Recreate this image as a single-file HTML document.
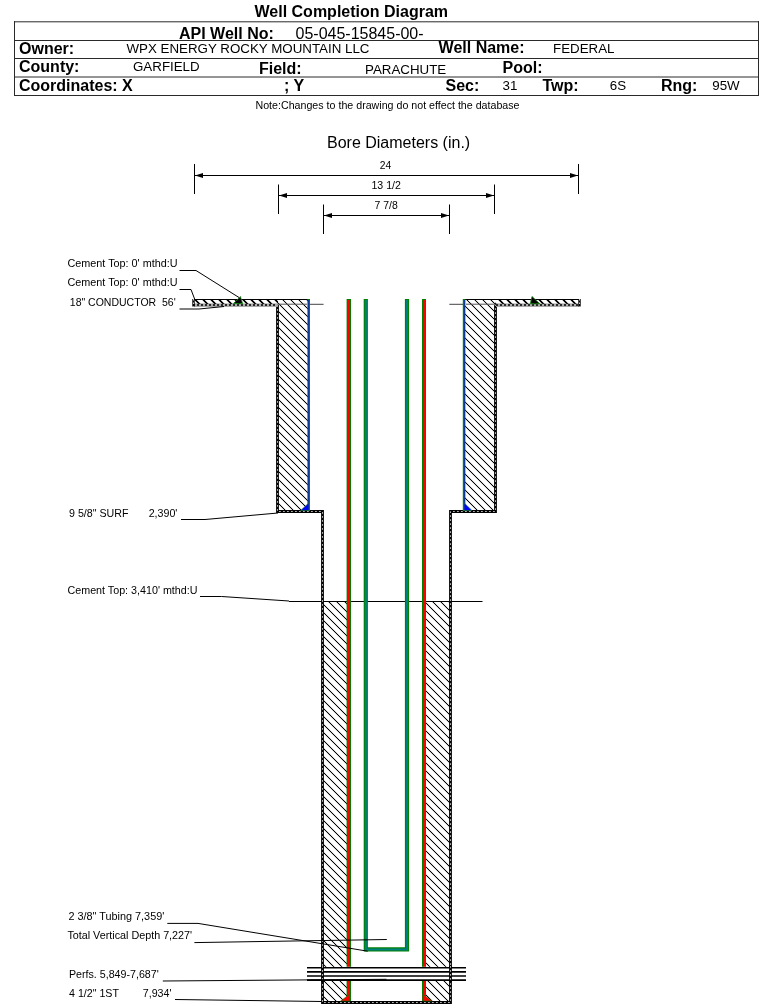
<!DOCTYPE html>
<html><head><meta charset="utf-8"><title>Well Completion Diagram</title>
<style>
html,body{margin:0;padding:0;background:#fff;width:759px;height:1004px;overflow:hidden}
svg{display:block;will-change:transform}
text{font-family:"Liberation Sans",sans-serif;fill:#000;white-space:pre}
.b{font-weight:bold;font-size:16px}
.r16{font-size:16px}
.r13{font-size:13.33px}
.s{font-size:10.67px}
</style></head><body>
<svg width="759" height="1004" viewBox="0 0 759 1004" xml:space="preserve">
<defs>
<pattern id="h" patternUnits="userSpaceOnUse" width="8" height="8" x="0" y="1"><g shape-rendering="crispEdges"><g fill="#d4d4d4"><rect x="1" y="0" width="1" height="1"/><rect x="0" y="1" width="1" height="1"/><rect x="2" y="1" width="1" height="1"/><rect x="1" y="2" width="1" height="1"/><rect x="3" y="2" width="1" height="1"/><rect x="2" y="3" width="1" height="1"/><rect x="4" y="3" width="1" height="1"/><rect x="3" y="4" width="1" height="1"/><rect x="5" y="4" width="1" height="1"/><rect x="4" y="5" width="1" height="1"/><rect x="6" y="5" width="1" height="1"/><rect x="5" y="6" width="1" height="1"/><rect x="7" y="6" width="1" height="1"/><rect x="6" y="7" width="1" height="1"/><rect x="0" y="7" width="1" height="1"/><rect x="7" y="0" width="1" height="1"/></g><g fill="#000"><rect x="0" y="0" width="1" height="1"/><rect x="1" y="1" width="1" height="1"/><rect x="2" y="2" width="1" height="1"/><rect x="3" y="3" width="1" height="1"/><rect x="4" y="4" width="1" height="1"/><rect x="5" y="5" width="1" height="1"/><rect x="6" y="6" width="1" height="1"/><rect x="7" y="7" width="1" height="1"/></g></g></pattern>
<pattern id="h2" patternUnits="userSpaceOnUse" width="8" height="8" x="0" y="1"><g shape-rendering="crispEdges"><g fill="#c8c8c8"><rect x="2" y="0" width="1" height="1"/><rect x="7" y="0" width="1" height="1"/><rect x="3" y="1" width="1" height="1"/><rect x="0" y="1" width="1" height="1"/><rect x="4" y="2" width="1" height="1"/><rect x="1" y="2" width="1" height="1"/><rect x="5" y="3" width="1" height="1"/><rect x="2" y="3" width="1" height="1"/><rect x="6" y="4" width="1" height="1"/><rect x="3" y="4" width="1" height="1"/><rect x="7" y="5" width="1" height="1"/><rect x="4" y="5" width="1" height="1"/><rect x="0" y="6" width="1" height="1"/><rect x="5" y="6" width="1" height="1"/><rect x="1" y="7" width="1" height="1"/><rect x="6" y="7" width="1" height="1"/></g><g fill="#000"><rect x="0" y="0" width="1" height="1"/><rect x="1" y="0" width="1" height="1"/><rect x="1" y="1" width="1" height="1"/><rect x="2" y="1" width="1" height="1"/><rect x="2" y="2" width="1" height="1"/><rect x="3" y="2" width="1" height="1"/><rect x="3" y="3" width="1" height="1"/><rect x="4" y="3" width="1" height="1"/><rect x="4" y="4" width="1" height="1"/><rect x="5" y="4" width="1" height="1"/><rect x="5" y="5" width="1" height="1"/><rect x="6" y="5" width="1" height="1"/><rect x="6" y="6" width="1" height="1"/><rect x="7" y="6" width="1" height="1"/><rect x="7" y="7" width="1" height="1"/><rect x="0" y="7" width="1" height="1"/></g></g></pattern>
</defs>
<!-- HEADER -->
<text class="b" x="254.5" y="17">Well Completion Diagram</text>
<g fill="none" stroke="#2a2a2a" stroke-width="1">
<line x1="14.5" y1="21.8" x2="758.5" y2="21.8"/>
<line x1="14" y1="40.5" x2="759" y2="40.5"/>
<line x1="14" y1="58.5" x2="759" y2="58.5"/>
<line x1="14" y1="77" x2="759" y2="77"/>
<line x1="14" y1="95.5" x2="759" y2="95.5"/>
<line x1="14.5" y1="21" x2="14.5" y2="96"/>
<line x1="758.5" y1="21" x2="758.5" y2="96"/>
</g>
<text class="b" x="179" y="38.5">API Well No:</text>
<text class="r16" x="295.5" y="38.5">05-045-15845-00-</text>
<text class="b" x="19" y="54.2">Owner:</text>
<text class="r13" x="126.5" y="52.8">WPX ENERGY ROCKY MOUNTAIN LLC</text>
<text class="b" x="438.6" y="53.4">Well Name:</text>
<text class="r13" x="553" y="52.5">FEDERAL</text>
<text class="b" x="19" y="72.1">County:</text>
<text class="r13" x="133" y="71.2">GARFIELD</text>
<text class="b" x="259" y="73.9">Field:</text>
<text class="r13" x="365" y="74">PARACHUTE</text>
<text class="b" x="502.5" y="72.8">Pool:</text>
<text class="b" x="19" y="90.6">Coordinates: X</text>
<text class="b" x="284" y="91">; Y</text>
<text class="b" x="445.5" y="90.7">Sec:</text>
<text class="r13" x="502.5" y="89.8">31</text>
<text class="b" x="542.5" y="90.7">Twp:</text>
<text class="r13" x="609.8" y="89.9">6S</text>
<text class="b" x="661" y="90.5">Rng:</text>
<text class="r13" x="712.3" y="89.8">95W</text>
<text class="s" x="255.5" y="108.9">Note:Changes to the drawing do not effect the database</text>
<text class="r16" x="327" y="148">Bore Diameters (in.)</text>

<!-- DIMENSIONS -->
<text class="s" x="385.6" y="169" text-anchor="middle" style="font-size:10.3px">24</text>
<text class="s" x="386.2" y="189" text-anchor="middle" style="font-size:10.6px">13 1/2</text>
<text class="s" x="386.2" y="209" text-anchor="middle" style="font-size:10.45px">7 7/8</text>
<g stroke="#000" stroke-width="1" fill="none">
<line x1="194.5" y1="164" x2="194.5" y2="194"/>
<line x1="578.5" y1="164" x2="578.5" y2="194"/>
<line x1="195" y1="175.5" x2="578" y2="175.5"/>
<line x1="278.5" y1="184.5" x2="278.5" y2="214"/>
<line x1="494.5" y1="184.5" x2="494.5" y2="214"/>
<line x1="279" y1="195.5" x2="494" y2="195.5"/>
<line x1="323.5" y1="204.5" x2="323.5" y2="234"/>
<line x1="449.5" y1="204.5" x2="449.5" y2="234"/>
<line x1="324" y1="215.5" x2="449" y2="215.5"/>
</g>
<g fill="#000">
<path d="M195,175.5 L203,173 L203,178 Z"/>
<path d="M578,175.5 L570,173 L570,178 Z"/>
<path d="M279,195.5 L287,193 L287,198 Z"/>
<path d="M494,195.5 L486,193 L486,198 Z"/>
<path d="M324,215.5 L332,213 L332,218 Z"/>
<path d="M449,215.5 L441,213 L441,218 Z"/>
</g>

<!-- WELL -->
<!-- conductor strip + surface cement hatch -->
<g fill="url(#h)" stroke="none">
<rect x="278" y="299" width="30" height="212"/>
<rect x="464" y="299" width="31" height="212"/>
<rect x="323" y="601" width="24" height="401"/>
<rect x="426" y="601" width="24" height="401"/>
</g>
<g fill="url(#h2)" stroke="none">
<rect x="194" y="300" width="84" height="6"/>
<rect x="495" y="300" width="85" height="6"/>
</g>
<!-- conductor top lines -->
<g stroke="#000" stroke-width="1" fill="none">
<line x1="193" y1="299.5" x2="308" y2="299.5"/>
<line x1="464" y1="299.5" x2="580" y2="299.5"/>
<line x1="193" y1="304.2" x2="307" y2="304.2" stroke="#555"/><line x1="310" y1="304.3" x2="323.6" y2="304.3" stroke="#444"/>
<line x1="466" y1="304.2" x2="580" y2="304.2" stroke="#555"/><line x1="449.3" y1="304.3" x2="463" y2="304.3" stroke="#444"/>
<line x1="289" y1="601.5" x2="482.5" y2="601.5"/>
</g>
<!-- dotted walls -->
<g fill="none" stroke-linejoin="miter">
<path d="M277.5,305 L277.5,511.5 L322.5,511.5 L322.5,1002.5 L450.5,1002.5 L450.5,511.5 L495.5,511.5 L495.5,305" stroke="#000" stroke-width="2.8"/>
<path d="M277.5,305 L277.5,511.5 L322.5,511.5 L322.5,1002.5 L450.5,1002.5 L450.5,511.5 L495.5,511.5 L495.5,305" stroke="#b0b0b0" stroke-width="1" stroke-dasharray="1.8 2.2"/>
<!-- strip bottoms -->
<line x1="193" y1="306.5" x2="277" y2="306.5" stroke="#aaa" stroke-width="1"/>
<line x1="496" y1="306.5" x2="580" y2="306.5" stroke="#aaa" stroke-width="1"/>
<line x1="193" y1="305" x2="277" y2="305" stroke="#aaa" stroke-width="1.8"/><line x1="193" y1="305.1" x2="277" y2="305.1" stroke="#000" stroke-width="1.5" stroke-dasharray="2 2"/>
<line x1="496" y1="305" x2="580" y2="305" stroke="#aaa" stroke-width="1.8"/><line x1="496" y1="305.1" x2="580" y2="305.1" stroke="#000" stroke-width="1.5" stroke-dasharray="2 2"/>
<!-- strip end caps -->
<line x1="193.5" y1="299" x2="193.5" y2="306.5" stroke="#000" stroke-width="2.4"/>
<line x1="193.5" y1="299" x2="193.5" y2="306.5" stroke="#fff" stroke-width="0.8" stroke-dasharray="1.5 2"/>
<line x1="579.5" y1="299" x2="579.5" y2="306.5" stroke="#000" stroke-width="2.4"/>
<line x1="579.5" y1="299" x2="579.5" y2="306.5" stroke="#fff" stroke-width="0.8" stroke-dasharray="1.5 2"/>
</g>
<!-- surface casing -->
<rect x="307.4" y="299" width="2.6" height="212" fill="#008000"/>
<rect x="308" y="300" width="1" height="210" fill="#0a3a94"/>
<rect x="462.8" y="299" width="2.6" height="212" fill="#008000"/>
<rect x="464" y="300" width="1" height="210" fill="#0a3a94"/>
<path d="M309,502.7 L309,510.5 L300.6,510.5 Z" fill="#0000ff" stroke="#1a8a1a" stroke-width="0.6"/>
<path d="M464,502.7 L464,510.5 L472,510.5 Z" fill="#0000ff" stroke="#1a8a1a" stroke-width="0.6"/>
<!-- production casing -->
<rect x="346.6" y="299" width="4.4" height="702" fill="#008000"/>
<rect x="347.7" y="300" width="2.3" height="700" fill="#ff0000"/>
<rect x="422" y="299" width="4" height="702" fill="#008000"/>
<rect x="423" y="300" width="2" height="700" fill="#ff0000"/>
<path d="M350,994 L350,1001 L340.7,1001 Z" fill="#ff0000" stroke="#008000" stroke-width="0.6"/>
<path d="M422.5,994 L422.5,1001 L432,1001 Z" fill="#ff0000" stroke="#008000" stroke-width="0.6"/>
<!-- tubing -->
<path d="M365.8,299 L365.8,949.4 L407,949.4 L407,299" fill="none" stroke="#008000" stroke-width="4.2"/>
<path d="M365.8,300 L365.8,949.4 L407,949.4 L407,300" fill="none" stroke="#008080" stroke-width="2"/>
<!-- perfs -->
<rect x="307" y="966.8" width="159" height="14" fill="#fff"/>
<g stroke="#000" stroke-width="1.6">
<line x1="307" y1="967.8" x2="466" y2="967.8"/>
<line x1="307" y1="971.9" x2="466" y2="971.9"/>
<line x1="307" y1="976" x2="466" y2="976"/>
<line x1="307" y1="980.1" x2="466" y2="980.1"/>
</g>
<path d="M322.5,966 L322.5,982" stroke="#000" stroke-width="2.8"/>
<path d="M322.5,966 L322.5,982" stroke="#b0b0b0" stroke-width="1" stroke-dasharray="1.8 2.2"/>
<path d="M450.5,966 L450.5,982" stroke="#000" stroke-width="2.8"/>
<path d="M450.5,966 L450.5,982" stroke="#b0b0b0" stroke-width="1" stroke-dasharray="1.8 2.2"/>

<!-- cement top markers -->
<path d="M240.4,296.5 L242.6,303.6 L233.4,303.6 Z" fill="#000" stroke="#0a8a0a" stroke-width="0.8"/>
<path d="M532,296.5 L530.3,303.8 L539.8,303.8 Z" fill="#000" stroke="#0a8a0a" stroke-width="0.8"/>

<!-- LABELS -->
<text class="s" x="67.5" y="267" style="font-size:10.82px">Cement Top: 0' mthd:U</text>
<text class="s" x="67.5" y="286.3" style="font-size:10.82px">Cement Top: 0' mthd:U</text>
<text class="s" x="69.8" y="305.5" style="font-size:10.5px">18" CONDUCTOR  56'</text>
<text class="s" x="69" y="516.5">9 5/8" SURF</text>
<text class="s" x="148.7" y="516.5">2,390'</text>
<text class="s" x="67.5" y="593.6" style="font-size:10.72px">Cement Top: 3,410' mthd:U</text>
<text class="s" x="68.4" y="920" style="font-size:10.87px">2 3/8" Tubing 7,359'</text>
<text class="s" x="67.4" y="939.3" style="font-size:10.78px">Total Vertical Depth 7,227'</text>
<text class="s" x="69" y="977.5">Perfs. 5,849-7,687'</text>
<text class="s" x="69" y="996.7">4 1/2" 1ST</text>
<text class="s" x="142.8" y="996.7">7,934'</text>
<g stroke="#000" stroke-width="1" fill="none">
<path d="M179.5,270.5 L196,270.5 L239,297.5"/>
<path d="M179.5,289.5 L191,289.5 L195,300"/>
<path d="M179.5,309 L199,309 L224,306.5"/>
<path d="M181,519.5 L205,519.5 L278,513"/>
<path d="M200,596.5 L221.6,596.5 L289,601"/>
<path d="M167.3,923.4 L198,923.4 L367.7,951.2"/>
<path d="M194.4,942.6 L386.8,939.5"/>
<path d="M162.8,981 L386.5,979.3"/>
<path d="M175,999.5 L322,1001.5"/>
</g>
</svg>
</body></html>
